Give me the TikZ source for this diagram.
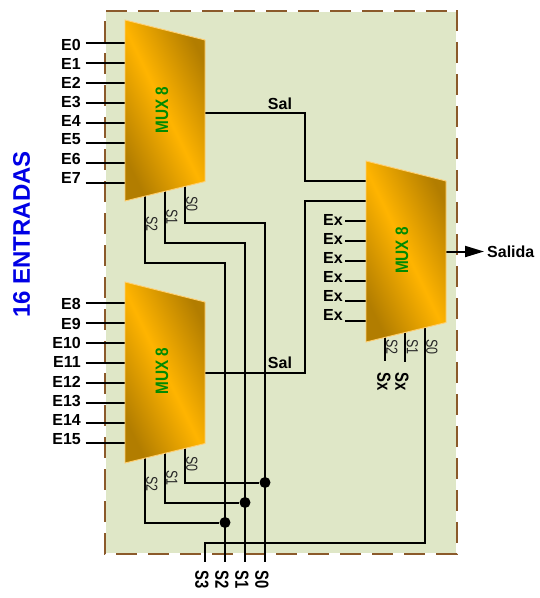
\documentclass[tikz,border=0pt]{standalone}
\usepackage{fontspec}
\setmainfont{Liberation Sans}
\usetikzlibrary{arrows.meta}
\definecolor{muxdark}{HTML}{B27D00}
\definecolor{muxlight}{HTML}{FFB400}
\definecolor{muxedge}{HTML}{FFCF70}
\definecolor{panelfill}{HTML}{DFE7C7}
\definecolor{panelline}{HTML}{8B5A2B}
\definecolor{muxtext}{HTML}{008A00}
\tikzset{
  muxbody/.style={draw=muxedge,line width=.9pt,left color=muxdark,right color=muxdark,middle color=muxlight,shading angle=-64},
  muxname/.style={font=\bfseries\fontsize{18}{18}\selectfont,text=muxtext,rotate=90,xscale=.85,inner sep=0},
  wire/.style={line width=2pt,black,line join=miter},
  inlabel/.style={font=\bfseries\fontsize{16}{17}\selectfont,anchor=east,inner sep=0},
  outlabel/.style={font=\bfseries\fontsize{16}{17}\selectfont,inner sep=0},
  sellabel/.style={font=\fontsize{16}{16}\selectfont,rotate=-90,xscale=.78,inner sep=0,text=black!85},
  buslabel/.style={font=\bfseries\fontsize{19}{19}\selectfont,rotate=-90,xscale=.78,inner sep=0},
  junction/.style={circle,fill=black,minimum size=11pt,inner sep=0},
}
\begin{document}
\begin{tikzpicture}[x=1pt,y=-1pt]
\useasboundingbox (0,0) rectangle (540,598);
% panel
\fill[panelfill] (105,11) rectangle (457,554);
\draw[white,line width=2.2pt] (105,11) rectangle (457,554);
\draw[panelline,line width=2.2pt,dash pattern=on 21pt off 11pt] (447,11) -- (105,11) -- (105,554) -- (457,554) -- (457,11) -- (447,11);
% title
\node[font=\bfseries\fontsize{24}{24}\selectfont,text=blue!90!black,rotate=90,inner sep=0] (title) at (21.5,234.5) {16 ENTRADAS};
% mux corner coordinates
\coordinate (aA) at (125,20);  \coordinate (aB) at (205,40);  \coordinate (aC) at (205,181.5); \coordinate (aD) at (125,201);
\coordinate (bA) at (125,282); \coordinate (bB) at (205,302); \coordinate (bC) at (205,443.5); \coordinate (bD) at (125,463);
\coordinate (cA) at (366,161); \coordinate (cB) at (446,181); \coordinate (cC) at (446,322.5); \coordinate (cD) at (366,342);
% inputs of the first two muxes
\foreach \lab/\wy/\ty [count=\i] in {E0/42.5/44.5,E1/62.5/63.5,E2/82.5/82.5,E3/102.5/101.5,E4/122.5/120.5,E5/142.5/139.5,E6/162.5/158.5,E7/182.5/177.5,
  E8/302.5/304,E9/322.5/323.5,E10/342.5/343,E11/362.5/362,E12/382.5/381.5,E13/402.5/401,E14/422.5/420,E15/442.5/439.5}{
  \node[inlabel] (in\i) at (81,\ty) {\lab};
  \coordinate (ins\i) at (85.5,\wy);
  \coordinate (ine\i) at (124.5,\wy);
  \draw[wire] (ins\i) -- (ine\i);
}
% spare inputs of the third mux
\foreach \wy/\ty [count=\i] in {221/220,241/239,261/258,281/277,301/296,321/315}{
  \node[inlabel] (ex\i) at (343,\ty) {Ex};
  \coordinate (exs\i) at (345,\wy);
  \coordinate (exe\i) at (365.5,\wy);
  \draw[wire] (exs\i) -- (exe\i);
}
% bus ends
\coordinate (busS3) at (205,562); \coordinate (busS2) at (225,562);
\coordinate (busS1) at (245,562); \coordinate (busS0) at (265,562);
% junctions
\node[junction] (j2) at (225,522.5) {};
\node[junction] (j1) at (245,502.5) {};
\node[junction] (j0) at (265,482.5) {};
% select pins
\coordinate (a2) at (145,196); \coordinate (a1) at (165,191); \coordinate (a0) at (185,186);
\coordinate (b2) at (145,458); \coordinate (b1) at (165,453); \coordinate (b0) at (185,448);
\coordinate (c2) at (385,337); \coordinate (c1) at (405,332); \coordinate (c0) at (425,327);
\coordinate (c2e) at (385,361); \coordinate (c1e) at (405,362);
% select wiring
\draw[wire] (a2) |- (225,262.5) -- (busS2);
\draw[wire] (a1) |- (245,242.5) -- (busS1);
\draw[wire] (a0) |- (265,222.5) -- (busS0);
\draw[wire] (b2) |- (j2);
\draw[wire] (b1) |- (j1);
\draw[wire] (b0) |- (j0);
\draw[wire] (c0) -- (425,542.5) -- (205,542.5) -- (busS3);
\draw[wire] (c2) -- (c2e);
\draw[wire] (c1) -- (c1e);
% mux outputs
\coordinate (aout) at (205,112.5); \coordinate (bout) at (205,372.5);
\coordinate (cin1) at (366,181); \coordinate (cin2) at (366,201);
\coordinate (cout) at (446,251.5); \coordinate (outtip) at (484,251.5);
\draw[wire] (aout) -- (305,112.5) -- (305,181) -- (cin1);
\draw[wire] (bout) -- (305,372.5) -- (305,201) -- (cin2);
\draw[wire,-{Triangle[length=19pt,width=11pt]}] (cout) -- (outtip);
% mux bodies
\path[muxbody] (aA) -- (aB) -- (aC) -- (aD) -- cycle;
\path[muxbody] (bA) -- (bB) -- (bC) -- (bD) -- cycle;
\path[muxbody] (cA) -- (cB) -- (cC) -- (cD) -- cycle;
\node[muxname] (mA) at (162,110) {MUX 8};
\node[muxname] (mB) at (162,371) {MUX 8};
\node[muxname] (mC) at (402,250.5) {MUX 8};
% labels
\node[outlabel] (sal1) at (280,104) {Sal};
\node[outlabel] (sal2) at (280,363) {Sal};
\node[outlabel,anchor=west] (salida) at (487,252) {Salida};
\node[sellabel] (la2) at (152,224) {S2};
\node[sellabel] (la1) at (172,217) {S1};
\node[sellabel] (la0) at (192,204) {S0};
\node[sellabel] (lb2) at (152,484) {S2};
\node[sellabel] (lb1) at (172,478) {S1};
\node[sellabel] (lb0) at (192,464) {S0};
\node[sellabel] (lc2) at (392,347) {S2};
\node[sellabel] (lc1) at (412.5,347) {S1};
\node[sellabel] (lc0) at (432,347) {S0};
\node[buslabel] (sx1) at (384,381.5) {Sx};
\node[buslabel] (sx2) at (402,381.5) {Sx};
\node[buslabel] (ls3) at (202,580) {S3};
\node[buslabel] (ls2) at (222,580) {S2};
\node[buslabel] (ls1) at (242,580) {S1};
\node[buslabel] (ls0) at (262,580) {S0};
\end{tikzpicture}
\end{document}
